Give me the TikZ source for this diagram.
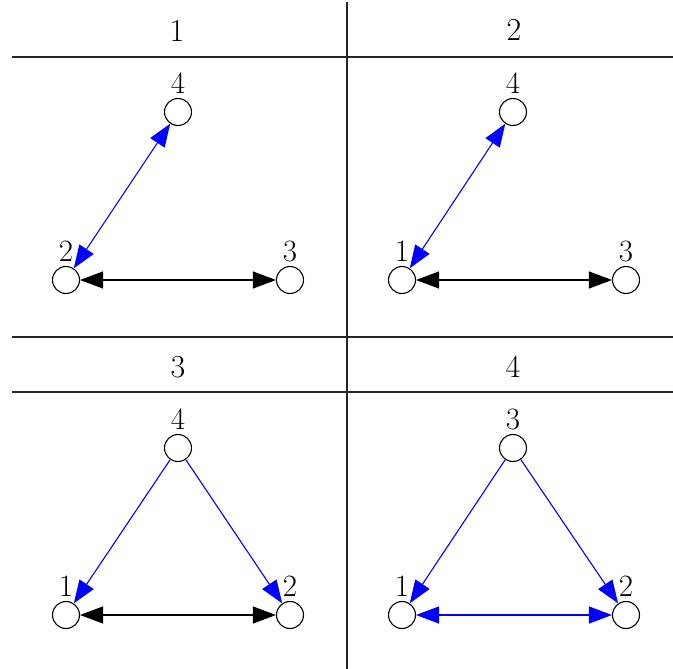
\documentclass[tikz,border=0pt]{standalone}
\usetikzlibrary{arrows.meta}
\begin{document}
\begin{tikzpicture}[x=1pt,y=-1pt,
  Tri/.tip={Triangle[length=23pt,width=17pt]},
  vtx/.style={circle,draw,fill=white,minimum size=27pt,inner sep=0pt,line width=1.1pt},
  lbl/.style={font=\fontsize{31}{36}\selectfont,inner sep=0pt},
  ttl/.style={font=\fontsize{32}{38}\selectfont,inner sep=0pt},
  rule/.style={line width=1.1pt,draw=black!85},
  bi/.style={line width=1.1pt,Tri-Tri},
  one/.style={line width=1.1pt,-Tri},
  nl/.style={label={[lbl,label distance=4pt]above:#1}}
]
\useasboundingbox (0,0) rectangle (673,669);
% grid lines
\coordinate (vt) at (347,2);
\coordinate (vb) at (347,669);
\coordinate (h1l) at (12,57);
\coordinate (h1r) at (673,57);
\coordinate (h2l) at (12,337);
\coordinate (h2r) at (673,337);
\coordinate (h3l) at (12,392);
\coordinate (h3r) at (673,392);
\draw[rule] (vt) -- (vb);
\draw[rule] (h1l) -- (h1r);
\draw[rule] (h2l) -- (h2r);
\draw[rule] (h3l) -- (h3r);
% titles
\node[ttl] (t1) at (177,31) {1};
\node[ttl] (t2) at (514,30) {2};
\node[ttl] (t3) at (178,367) {3};
\node[ttl] (t4) at (513,367) {4};
% panel 1
\node[vtx,nl=4] (a4) at (178,112) {};
\node[vtx,nl=2] (a2) at (66,280) {};
\node[vtx,nl=3] (a3) at (290,280) {};
\draw[bi,blue] (a2) -- (a4);
\draw[bi] (a2) -- (a3);
% panel 2
\node[vtx,nl=4] (b4) at (513,112) {};
\node[vtx,nl=1] (b1) at (402,280) {};
\node[vtx,nl=3] (b3) at (626,280) {};
\draw[bi,blue] (b1) -- (b4);
\draw[bi] (b1) -- (b3);
% panel 3
\node[vtx,nl=4] (c4) at (178,448) {};
\node[vtx,nl=1] (c1) at (66,615) {};
\node[vtx,nl=2] (c2) at (290,615) {};
\draw[one,blue] (c4) -- (c1);
\draw[one,blue] (c4) -- (c2);
\draw[bi] (c1) -- (c2);
% panel 4
\node[vtx,nl=3] (d3) at (513,448) {};
\node[vtx,nl=1] (d1) at (402,615) {};
\node[vtx,nl=2] (d2) at (626,615) {};
\draw[one,blue] (d3) -- (d1);
\draw[one,blue] (d3) -- (d2);
\draw[bi,blue] (d1) -- (d2);
\end{tikzpicture}
\end{document}
